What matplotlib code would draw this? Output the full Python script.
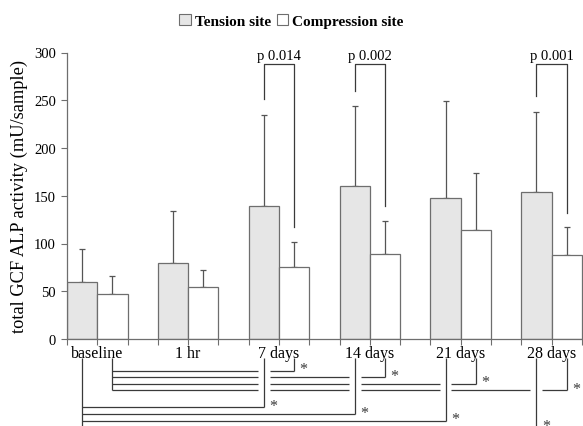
import matplotlib.pyplot as plt
import numpy as np
from matplotlib.patches import Patch

plt.rcParams["font.family"] = ["Liberation Serif", "DejaVu Serif"]

# values
categories = ["baseline", "1 hr", "7 days", "14 days", "21 days", "28 days"]
tension_mean = [60, 80, 139, 160, 148, 154]
tension_sd = [34, 54, 96, 84, 101, 84]
compression_mean = [47, 54, 75, 89, 114, 88]
compression_sd = [19, 18, 27, 35, 60, 29]

# tension vs compression brackets at the top
pvalue_groups = [2, 3, 5]
pvalue_labels = ["p 0.014", "p 0.002", "p 0.001"]

# groups differing significantly from baseline (drawn under the axis)
sig_tension = [2, 3, 4, 5]
sig_compression = [2, 3, 4, 5]

GRAY_FILL = "#e6e6e6"
EDGE = "#6e6e6e"
LINE = "#3a3a3a"
w = 1 / 3

fig = plt.figure(figsize=(5.83, 4.27), dpi=100)
ax = fig.add_axes([67 / 583, 1 - 340 / 427, 1 - 67 / 583, (340 - 53.5) / 427])

x = np.arange(len(categories))
ax.bar(x, tension_mean, width=w, align="edge", color=GRAY_FILL,
       edgecolor=EDGE, linewidth=0.9, label="Tension site", zorder=2)
ax.bar(x + w, compression_mean, width=w, align="edge", color="white",
       edgecolor=EDGE, linewidth=0.9, label="Compression site", zorder=2)

err_kw = dict(fmt="none", ecolor="#555555", elinewidth=0.9, capsize=2.5,
              capthick=0.9, zorder=1)
ax.errorbar(x + w / 2, tension_mean,
            yerr=[np.zeros(len(x)), tension_sd], **err_kw)
ax.errorbar(x + 1.5 * w, compression_mean,
            yerr=[np.zeros(len(x)), compression_sd], **err_kw)

ax.set_xlim(0, 5.68)
ax.set_ylim(0, 300)
ax.set_yticks(np.arange(0, 301, 50))
ticks = np.arange(18) / 3
ax.set_xticks(ticks)
ax.set_xticklabels([categories[k // 3] if k % 3 == 1 else "" for k in range(18)],
                   fontsize=11.5)
ax.tick_params(axis="x", length=4, color=EDGE, pad=0)
ax.tick_params(axis="y", length=4, color=EDGE, labelsize=10.5, pad=4)
for s in ["top", "right"]:
    ax.spines[s].set_visible(False)
for s in ["left", "bottom"]:
    ax.spines[s].set_color(EDGE)
    ax.spines[s].set_linewidth(0.9)

ax.set_ylabel("total GCF ALP activity (mU/sample)", fontsize=13.2)
ax.yaxis.set_label_coords(-0.075, 0.5)

# p-value brackets
top = 288
for g, lab in zip(pvalue_groups, pvalue_labels):
    xl, xr = g + w / 2, g + 1.5 * w
    yl = tension_mean[g] + tension_sd[g] + 16
    yr = compression_mean[g] + compression_sd[g] + 15
    ax.plot([xl, xl, xr, xr], [yl, top, top, yr], color=LINE, lw=0.9,
            clip_on=False)
    ax.text((xl + xr) / 2, top + 2, lab, ha="center", va="bottom", fontsize=10.5)

# significance lines below the axis
vtop = -20
comp_levels = [-33 - 6.8 * k for k in range(len(sig_compression))]
ten_levels = [-71.5 - 7.0 * k for k in range(len(sig_tension))]

verticals = []  # (x, ytop, ybottom)
horizontals = []  # (x0, x1, y)
stars = []
verticals.append((0 + 1.5 * w, vtop, comp_levels[-1]))
for g, y in zip(sig_compression, comp_levels):
    xg = g + 1.5 * w
    verticals.append((xg, vtop, y))
    horizontals.append((1.5 * w, xg, y))
    stars.append((xg, y))
verticals.append((w / 2, vtop, ten_levels[-1] - 6))
for g, y in zip(sig_tension, ten_levels):
    xg = g + w / 2
    verticals.append((xg, vtop, y))
    horizontals.append((w / 2, xg, y))
    stars.append((xg, y))

gap = 0.065
for xv, y0, y1 in verticals:
    ax.plot([xv, xv], [y0, y1], color=LINE, lw=0.9, clip_on=False,
            solid_capstyle="butt")
for x0, x1, y in horizontals:
    cuts = sorted(xv for xv, y0, y1 in verticals
                  if x0 < xv < x1 - 1e-6 and y1 < y < y0)
    starts = [x0] + [c + gap for c in cuts]
    ends = [c - gap for c in cuts] + [x1]
    for a, b in zip(starts, ends):
        ax.plot([a, b], [y, y], color=LINE, lw=0.9, clip_on=False,
                solid_capstyle="butt")
for xs, y in stars:
    ax.text(xs + 0.06, y + 1.5, "*", ha="left", va="center", fontsize=11.5,
            color=LINE)

handles = [Patch(facecolor=GRAY_FILL, edgecolor=EDGE, lw=0.8),
           Patch(facecolor="white", edgecolor=EDGE, lw=0.8)]
fig.legend(handles, ["Tension site", "Compression site"], loc="center",
           bbox_to_anchor=(0.50, 0.949), ncol=2, frameon=False,
           prop={"weight": "bold", "size": 11}, handlelength=0.75,
           handleheight=0.75, handletextpad=0.25, columnspacing=0.4)

fig.savefig("out.png", dpi=100)
